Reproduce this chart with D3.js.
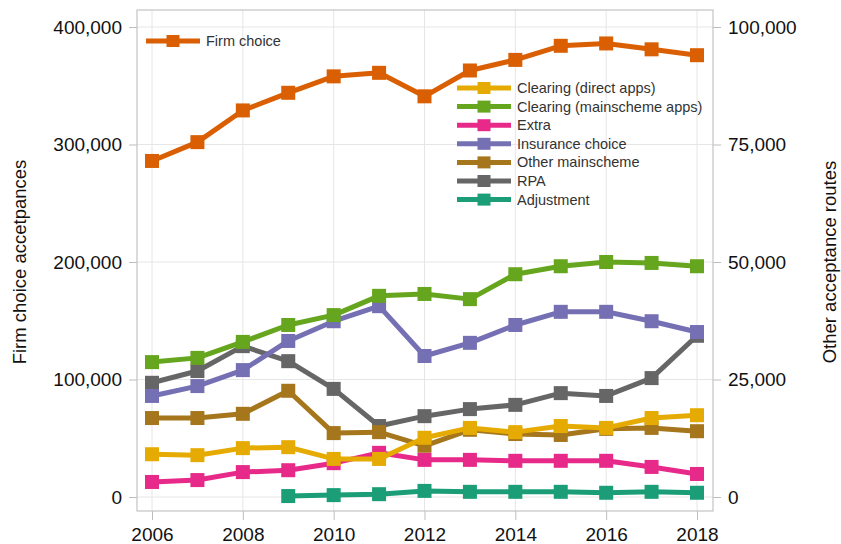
<!DOCTYPE html>
<html>
<head>
  <meta charset="utf-8">
  <style>
    body { margin: 0; background: #fff; }
    text { font-family: "Liberation Sans", Arial, sans-serif; }
  </style>
</head>
<body>
  <svg width="841" height="544"></svg>
  <script src="https://d3js.org/d3.v7.min.js"></script>
  <script>
    // years and series
    var years = [2006, 2007, 2008, 2009, 2010, 2011, 2012, 2013, 2014, 2015, 2016, 2017, 2018];
    var firmChoice = [286000, 302000, 329000, 344000, 358000, 361000, 341000, 363000, 372000, 384000, 386000, 381000, 376000];
    var clearingDirect = [9100, 8900, 10400, 10600, 8100, 8100, 12600, 14700, 13800, 15100, 14700, 16800, 17400];
    var clearingMain = [28700, 29600, 33000, 36600, 38700, 42800, 43200, 42100, 47400, 49100, 50000, 49800, 49100];
    var extra = [3200, 3600, 5300, 5700, 7200, 9400, 7900, 7900, 7700, 7700, 7700, 6400, 4900];
    var insurance = [21500, 23600, 27000, 33200, 37400, 40600, 30000, 32800, 36600, 39400, 39400, 37400, 35100];
    var otherMain = [16800, 16800, 17700, 22600, 13600, 13800, 10900, 14300, 13400, 13200, 14500, 14700, 14000];
    var rpa = [24300, 26800, 32100, 28900, 23000, 15100, 17200, 18700, 19600, 22100, 21500, 25300, 34300];
    var adjustment = [null, null, null, 200, 400, 600, 1300, 1100, 1100, 1100, 900, 1100, 900];

    var xTicks = [2006, 2008, 2010, 2012, 2014, 2016, 2018];
    var leftTicks = [0, 100000, 200000, 300000, 400000];
    var rightTicks = [0, 25000, 50000, 75000, 100000];

    var otherSeries = [
      { name: "Clearing (direct apps)", values: clearingDirect, color: "#e6ab02" },
      { name: "Clearing (mainscheme apps)", values: clearingMain, color: "#66a61e" },
      { name: "Extra", values: extra, color: "#e7298a" },
      { name: "Insurance choice", values: insurance, color: "#7570b3" },
      { name: "Other mainscheme", values: otherMain, color: "#a6761d" },
      { name: "RPA", values: rpa, color: "#666666" },
      { name: "Adjustment", values: adjustment, color: "#1b9e77" }
    ];
    var firmColor = "#d95f02";

    var svg = d3.select("svg");
    var frame = { left: 137, right: 713, top: 10, bottom: 511 };

    var x = d3.scaleLinear().domain([2006, 2018]).range([152, 697]);
    var yL = d3.scaleLinear().domain([0, 400000]).range([497, 27]);
    var yR = d3.scaleLinear().domain([0, 100000]).range([497, 27]);
    var fmt = d3.format(",");

    // grid
    svg.append("g").selectAll("line").data(xTicks).enter().append("line")
      .attr("x1", function (d) { return x(d); }).attr("x2", function (d) { return x(d); })
      .attr("y1", frame.top).attr("y2", frame.bottom)
      .attr("stroke", "#e6e6e6").attr("stroke-width", 1);
    svg.append("g").selectAll("line").data(leftTicks).enter().append("line")
      .attr("x1", frame.left).attr("x2", frame.right)
      .attr("y1", function (d) { return yL(d); }).attr("y2", function (d) { return yL(d); })
      .attr("stroke", "#e6e6e6").attr("stroke-width", 1);

    // axes
    var axL = svg.append("g").attr("transform", "translate(" + frame.left + ",0)")
      .call(d3.axisLeft(yL).tickValues(leftTicks).tickFormat(fmt).tickSize(8).tickPadding(7));
    var axR = svg.append("g").attr("transform", "translate(" + frame.right + ",0)")
      .call(d3.axisRight(yR).tickValues(rightTicks).tickFormat(fmt).tickSize(8).tickPadding(7));
    var axB = svg.append("g").attr("transform", "translate(0," + frame.bottom + ")")
      .call(d3.axisBottom(x).tickValues(xTicks).tickFormat(d3.format("d")).tickSize(9).tickPadding(8));
    [axL, axR, axB].forEach(function (g) {
      g.select(".domain").remove();
      g.selectAll(".tick line").attr("stroke", "#bdbdbd");
      g.selectAll(".tick text").attr("fill", "#111").style("font-size", "19px")
        .style("font-family", "'Liberation Sans', Arial, sans-serif");
    });

    // frame
    svg.append("rect")
      .attr("x", frame.left).attr("y", frame.top)
      .attr("width", frame.right - frame.left).attr("height", frame.bottom - frame.top)
      .attr("fill", "none").attr("stroke", "#c4c4c4").attr("stroke-width", 1.2);

    // axis titles
    svg.append("text").attr("transform", "translate(26,262) rotate(-90)")
      .attr("text-anchor", "middle").style("font-size", "18.5px").attr("fill", "#111")
      .text("Firm choice accetpances");
    svg.append("text").attr("transform", "translate(836,262) rotate(-90)")
      .attr("text-anchor", "middle").style("font-size", "18.5px").attr("fill", "#111")
      .text("Other acceptance routes");

    function drawSeries(vals, y, color) {
      var pts = years.map(function (yr, i) { return { yr: yr, v: vals[i] }; })
        .filter(function (p) { return p.v != null; });
      var line = d3.line().x(function (p) { return x(p.yr); }).y(function (p) { return y(p.v); });
      svg.append("path").datum(pts).attr("d", line)
        .attr("fill", "none").attr("stroke", color).attr("stroke-width", 5)
        .attr("stroke-linejoin", "round");
      svg.append("g").selectAll("rect").data(pts).enter().append("rect")
        .attr("x", function (p) { return x(p.yr) - 7; })
        .attr("y", function (p) { return y(p.v) - 7; })
        .attr("width", 14).attr("height", 14).attr("fill", color);
    }

    otherSeries.slice().reverse().forEach(function (s) { drawSeries(s.values, yR, s.color); });
    drawSeries(firmChoice, yL, firmColor);

    function legendItem(lx, ly, color, label) {
      svg.append("line").attr("x1", lx).attr("x2", lx + 54).attr("y1", ly).attr("y2", ly)
        .attr("stroke", color).attr("stroke-width", 5);
      svg.append("rect").attr("x", lx + 27 - 6.5).attr("y", ly - 6).attr("width", 13).attr("height", 12)
        .attr("fill", color);
      svg.append("text").attr("x", lx + 60).attr("y", ly + 5).style("font-size", "14.5px")
        .attr("fill", "#333").text(label);
    }

    legendItem(146, 41, firmColor, "Firm choice");
    otherSeries.forEach(function (s, i) { legendItem(457, 88 + i * 18.6, s.color, s.name); });
  </script>
</body>
</html>
